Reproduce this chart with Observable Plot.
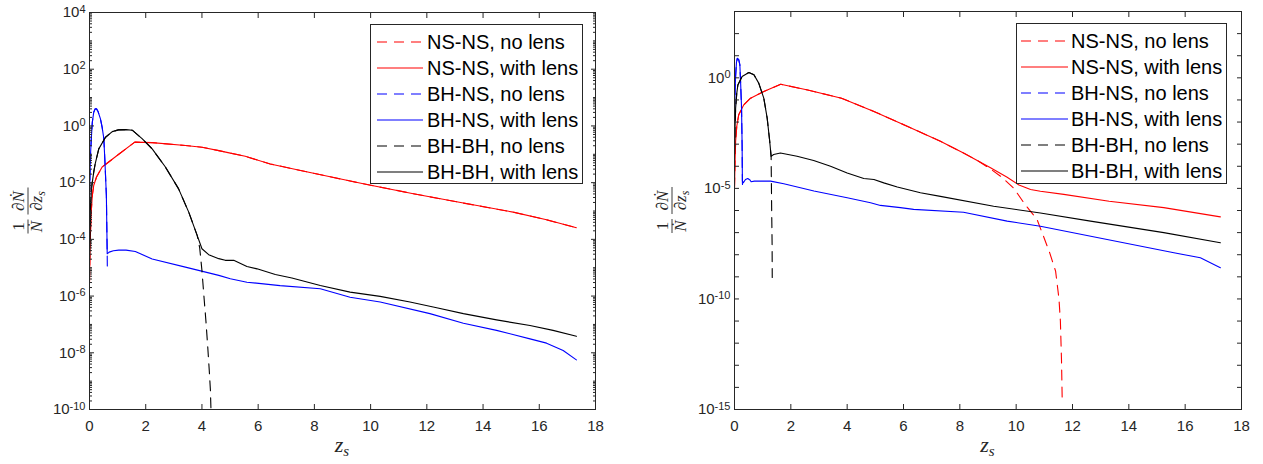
<!DOCTYPE html>
<html>
<head>
<meta charset="utf-8">
<script src="https://cdn.jsdelivr.net/npm/d3@7"></script>
<script src="https://cdn.jsdelivr.net/npm/@observablehq/plot@0.6"></script>
<style>
  body { margin: 0; background: #fff; }
  #wrap { position: relative; width: 1263px; height: 464px; font-family: "Liberation Sans", Arial, sans-serif; background: #fff; }
  .panel { position: absolute; top: 0; }
  .legend { position: absolute; box-sizing: border-box; background: #fff; border: 1px solid #262626; font-size: 20px; color: #000; }
  .legend .row { display: flex; align-items: center; height: 26px; white-space: nowrap; }
  .legend svg { display: block; }
</style>
</head>
<body>
<div id="wrap"></div>
<script>
// ---------- labels / categories ----------
const seriesNames  = ["NS-NS, no lens", "NS-NS, with lens", "BH-NS, no lens", "BH-NS, with lens", "BH-BH, no lens", "BH-BH, with lens"];
const seriesColors = ["#ff0000", "#ff0000", "#0000ff", "#0000ff", "#000000", "#000000"];
const seriesDashed = [true, false, true, false, true, false];
const xTicks = [0, 2, 4, 6, 8, 10, 12, 14, 16, 18];
const xLabel = "z";
const xLabelSub = "s";
const leftYLabelExp  = [-10, -8, -6, -4, -2, 0, 2, 4];
const rightYLabelExp = [-15, -10, -5, 0];

// ---------- data: [z_s, log10(1/N dN/dz_s)] ----------
// Left panel
const L_nsnsLens = [[0,-5.5],[0.02,-4.3],[0.04,-3.6],[0.07,-2.9],[0.1,-2.45],[0.15,-2.1],[0.25,-1.8],[0.45,-1.45],[1.04,-1.0],[1.61,-0.57],[2.23,-0.59],[3.41,-0.69],[4.0,-0.75],[4.6,-0.87],[5.01,-0.96],[5.54,-1.07],[6.43,-1.34],[7.97,-1.67],[9.74,-2.04],[11.52,-2.39],[13.3,-2.72],[15.07,-3.04],[16.26,-3.31],[17.32,-3.59]];
const L_nsnsNoLensSplit = 17.32;
const L_nsnsNoLensTail = [];
const L_bhnsLens = [[0,-2.5],[0.02,-1.6],[0.04,-0.93],[0.07,-0.35],[0.1,0.13],[0.15,0.48],[0.2,0.6],[0.25,0.6],[0.3,0.52],[0.39,0.25],[0.45,-0.05],[0.51,-0.45],[0.55,-1.28],[0.6,-2.45],[0.63,-4.51],[0.7,-4.45],[0.85,-4.4],[1.04,-4.38],[1.3,-4.38],[1.63,-4.43],[2.23,-4.69],[3.41,-4.98],[4.6,-5.27],[5.01,-5.39],[5.6,-5.51],[6.78,-5.63],[8.21,-5.74],[9.27,-6.04],[10.34,-6.21],[12.11,-6.62],[13.3,-6.96],[14.48,-7.21],[15.67,-7.51],[16.26,-7.66],[16.85,-7.92],[17.32,-8.25]];
const L_bhnsNoLensSplit = 0.63;
const L_bhnsNoLensTail = [[0.635,-5.1]];
const L_bhbhLens = [[0,-4.7],[0.03,-3.0],[0.07,-2.2],[0.15,-1.63],[0.2,-1.35],[0.33,-0.81],[0.57,-0.40],[0.81,-0.20],[1.03,-0.14],[1.3,-0.13],[1.52,-0.15],[1.87,-0.45],[2.23,-0.81],[2.7,-1.45],[3.17,-2.22],[3.53,-3.04],[3.83,-3.86],[4.0,-4.33],[4.24,-4.54],[4.6,-4.68],[4.83,-4.74],[5.13,-4.74],[5.6,-4.96],[5.96,-5.04],[6.61,-5.24],[7.2,-5.36],[8.21,-5.63],[9.27,-5.86],[10.34,-6.01],[11.4,-6.21],[12.35,-6.41],[13.3,-6.62],[14.48,-6.84],[15.67,-7.04],[16.49,-7.21],[17.32,-7.42]];
const L_bhbhNoLensSplit = 3.83;
const L_bhbhNoLensTail = [[3.92,-4.3],[4.0,-5.1],[4.07,-6.0],[4.14,-6.86],[4.2,-7.7],[4.26,-8.62],[4.3,-9.3],[4.33,-10.3]];

// Right panel
const R_nsnsLens = [[0,-4.97],[0.02,-3.8],[0.04,-2.87],[0.08,-2.2],[0.15,-1.67],[0.33,-1.22],[0.57,-0.92],[1.04,-0.62],[1.64,-0.29],[2.6,-0.55],[3.8,-0.92],[4.95,-1.52],[6.13,-2.19],[7.31,-2.87],[8.13,-3.40],[9.09,-4.07],[9.68,-4.5],[10.1,-4.85],[10.51,-5.05],[10.86,-5.13],[11.69,-5.27],[13.3,-5.58],[15.24,-5.87],[17.25,-6.29]];
const R_nsnsNoLensSplit = 8.13;
const R_nsnsNoLensTail = [[8.6,-3.72],[9.09,-4.12],[9.5,-4.5],[9.92,-5.0],[10.3,-5.7],[10.74,-6.4],[10.98,-7.2],[11.2,-7.95],[11.4,-8.74],[11.52,-10.0],[11.57,-11.0],[11.61,-12.8],[11.635,-14.6]];
const R_bhnsLens = [[0,-1.52],[0.02,-0.6],[0.04,0.1],[0.07,0.7],[0.1,0.88],[0.15,0.82],[0.19,0.59],[0.22,-0.3],[0.25,-1.37],[0.27,-3.0],[0.28,-4.67],[0.31,-4.75],[0.39,-4.6],[0.47,-4.55],[0.55,-4.62],[0.59,-4.7],[0.7,-4.67],[1.28,-4.67],[1.75,-4.79],[2.82,-5.12],[4.0,-5.42],[4.83,-5.65],[5.18,-5.77],[5.89,-5.87],[6.36,-5.95],[8.13,-6.08],[9.68,-6.48],[10.86,-6.71],[13.23,-7.31],[15.6,-7.91],[16.54,-8.14],[17.25,-8.59]];
const R_bhnsNoLensSplit = 0.28;
const R_bhnsNoLensTail = [[0.285,-5.0]];
const R_bhbhLens = [[0,-3.47],[0.02,-2.2],[0.04,-1.37],[0.08,-0.7],[0.12,-0.32],[0.27,0.06],[0.51,0.24],[0.69,0.14],[0.86,-0.24],[1.04,-0.92],[1.16,-1.82],[1.25,-2.87],[1.30,-3.55],[1.39,-3.47],[1.63,-3.40],[2.22,-3.55],[2.81,-3.74],[3.41,-4.0],[4.0,-4.3],[4.59,-4.55],[4.95,-4.6],[5.3,-4.75],[5.78,-4.94],[6.6,-5.2],[7.31,-5.36],[9.2,-5.81],[10.86,-6.11],[12.64,-6.48],[15.24,-7.0],[17.25,-7.46]];
const R_bhbhNoLensSplit = 1.30;
const R_bhbhNoLensTail = [[1.32,-6.0],[1.335,-7.5],[1.34,-9.03]];

// ---------- helpers ----------
const axisColor = "#262626";
const toPts = arr => arr.map(([z, lg]) => ({z, y: Math.pow(10, lg)}));
const noLens = (lens, split, tail) => lens.filter(p => p[0] <= split).concat(tail);

function seriesFor(nsL, nsS, nsT, bnL, bnS, bnT, bbL, bbS, bbT) {
  const d = [noLens(nsL, nsS, nsT), nsL, noLens(bnL, bnS, bnT), bnL, noLens(bbL, bbS, bbT), bbL];
  return d.map((a, i) => ({pts: toPts(a), color: seriesColors[i], dashed: seriesDashed[i]}));
}

function buildPanel({left, width, ml, mr, mt, mb, yExpMin, yExpMax, labelExp, majorExp, minor, series, titleX}) {
  const height = 464;
  const labelVals = labelExp.map(e => Math.pow(10, e));
  const majorVals = majorExp.map(e => Math.pow(10, e));
  const marks = [];
  for (const s of series) {
    marks.push(Plot.line(s.pts, {x: "z", y: "y", stroke: s.color, strokeWidth: 1.1,
      strokeDasharray: s.dashed ? "10,7" : null, clip: true}));
  }
  marks.push(Plot.frame({stroke: axisColor, strokeWidth: 1}));
  // tick labels
  marks.push(Plot.axisX({anchor: "bottom", ticks: xTicks, tickSize: 0, tickPadding: 11, label: null, fontSize: 15,
    fill: axisColor, tickFormat: d => String(d)}));
  marks.push(Plot.axisY({anchor: "left", ticks: labelVals, tickSize: 0, tickPadding: 4, label: null, fontSize: 15,
    fill: axisColor, tickFormat: d => "10^" + Math.round(Math.log10(d))}));
  // inward ticks on all four sides
  const blank = () => "";
  marks.push(Plot.axisX({anchor: "bottom", ticks: xTicks, tickSize: 5, dy: -5, tickFormat: blank, label: null, stroke: axisColor}));
  marks.push(Plot.axisX({anchor: "top", ticks: xTicks, tickSize: 5, dy: 5, tickFormat: blank, label: null, stroke: axisColor}));
  marks.push(Plot.axisY({anchor: "left", ticks: majorVals, tickSize: 5, dx: 5, tickFormat: blank, label: null, stroke: axisColor}));
  marks.push(Plot.axisY({anchor: "right", ticks: majorVals, tickSize: 5, dx: -5, tickFormat: blank, label: null, stroke: axisColor}));
  if (minor.length) {
    marks.push(Plot.axisY({anchor: "left", ticks: minor, tickSize: 3, dx: 3, tickFormat: blank, label: null, stroke: axisColor}));
    marks.push(Plot.axisY({anchor: "right", ticks: minor, tickSize: 3, dx: -3, tickFormat: blank, label: null, stroke: axisColor}));
  }
  const svg = Plot.plot({
    width, height,
    marginLeft: ml, marginRight: mr, marginTop: mt, marginBottom: mb,
    style: {fontFamily: '"Liberation Sans", Arial, sans-serif', fontSize: "15px", color: axisColor, background: "transparent", overflow: "visible"},
    x: {domain: [0, 18], label: null},
    y: {type: "log", domain: [Math.pow(10, yExpMin), Math.pow(10, yExpMax)], label: null},
    marks
  });
  svg.classList.add("panel");
  svg.style.left = left + "px";
  svg.style.position = "absolute";
  svg.style.top = "0px";

  // superscript exponents for y tick labels
  const NS = "http://www.w3.org/2000/svg";
  for (const t of svg.querySelectorAll("text")) {
    const m = /^10\^(.*)$/.exec(t.textContent);
    if (!m) continue;
    t.textContent = "10";
    t.setAttribute("font-size", "15px");
    const ts = document.createElementNS(NS, "tspan");
    ts.setAttribute("dy", "-0.42em");
    ts.setAttribute("font-size", "11px");
    ts.textContent = m[1];
    t.appendChild(ts);
  }

  // axis titles
  const s = d3.select(svg);
  const cx = (ml + (width - mr)) / 2;
  const xt = s.append("text").attr("x", cx).attr("y", 452).attr("text-anchor", "middle")
    .attr("font-family", '"Liberation Serif", "DejaVu Serif", serif').attr("font-style", "italic")
    .attr("font-size", 22).attr("fill", axisColor).text(xLabel);
  xt.append("tspan").attr("font-size", 15).attr("dy", 4).text(xLabelSub);

  const g = s.append("g").attr("transform", `translate(${titleX},${(mt + height - mb) / 2 + 1}) rotate(-90)`)
    .attr("font-family", '"Liberation Serif", "DejaVu Serif", serif').attr("font-size", 17).attr("fill", axisColor)
    .attr("text-anchor", "middle");
  g.append("text").attr("x", -15).attr("y", -4).text("1");
  g.append("line").attr("x1", -22).attr("x2", -8).attr("y1", 0).attr("y2", 0).attr("stroke", axisColor).attr("stroke-width", 0.9);
  g.append("text").attr("x", -15).attr("y", 14).attr("font-style", "italic").text("\u1E44");
  g.append("text").attr("x", 10.5).attr("y", -4).attr("font-style", "italic").text("\u2202\u1E44");
  g.append("line").attr("x1", -3).attr("x2", 24).attr("y1", 0).attr("y2", 0).attr("stroke", axisColor).attr("stroke-width", 0.9);
  const den = g.append("text").attr("x", 10.5).attr("y", 14).attr("font-style", "italic").text("\u2202z");
  den.append("tspan").attr("font-size", 12).attr("dy", 3).text("s");
  return svg;
}

function buildLegend({left, top, width, height, padLeft, lineLen, gap}) {
  const div = document.createElement("div");
  div.className = "legend";
  Object.assign(div.style, {left: left + "px", top: top + "px", width: width + "px", height: height + "px",
    paddingTop: "4px", paddingLeft: padLeft + "px"});
  seriesNames.forEach((name, i) => {
    const row = document.createElement("div");
    row.className = "row";
    const svgNS = "http://www.w3.org/2000/svg";
    const sv = document.createElementNS(svgNS, "svg");
    sv.setAttribute("width", lineLen); sv.setAttribute("height", 6);
    const ln = document.createElementNS(svgNS, "line");
    ln.setAttribute("x1", 0); ln.setAttribute("x2", lineLen); ln.setAttribute("y1", 3); ln.setAttribute("y2", 3);
    ln.setAttribute("stroke", seriesColors[i]); ln.setAttribute("stroke-width", 1.1);
    if (seriesDashed[i]) ln.setAttribute("stroke-dasharray", "10,7");
    sv.appendChild(ln);
    const sp = document.createElement("span");
    sp.style.marginLeft = gap + "px";
    sp.textContent = name;
    row.appendChild(sv); row.appendChild(sp);
    div.appendChild(row);
  });
  return div;
}

// minor ticks for the left panel's log axis
const leftMinor = [];
for (let k = -10; k < 4; k++) {
  for (let m = 2; m <= 9; m++) leftMinor.push(m * Math.pow(10, k));
  if (k % 2 !== 0) leftMinor.push(Math.pow(10, k));
}
const rightMajorExp = d3.range(-15, 4);

const wrap = document.getElementById("wrap");
wrap.appendChild(buildPanel({
  left: 0, width: 630, ml: 89, mr: 35, mt: 12, mb: 55,
  yExpMin: -10, yExpMax: 4, labelExp: leftYLabelExp, majorExp: leftYLabelExp, minor: leftMinor,
  series: seriesFor(L_nsnsLens, L_nsnsNoLensSplit, L_nsnsNoLensTail, L_bhnsLens, L_bhnsNoLensSplit, L_bhnsNoLensTail, L_bhbhLens, L_bhbhNoLensSplit, L_bhbhNoLensTail),
  titleX: 28
}));
wrap.appendChild(buildPanel({
  left: 630, width: 633, ml: 104, mr: 22, mt: 11, mb: 55,
  yExpMin: -15, yExpMax: 3, labelExp: rightYLabelExp, majorExp: rightMajorExp, minor: [],
  series: seriesFor(R_nsnsLens, R_nsnsNoLensSplit, R_nsnsNoLensTail, R_bhnsLens, R_bhnsNoLensSplit, R_bhnsNoLensTail, R_bhbhLens, R_bhbhNoLensSplit, R_bhbhNoLensTail),
  titleX: 42
}));
wrap.appendChild(buildLegend({left: 370, top: 24, width: 213, height: 160, padLeft: 6, lineLen: 46, gap: 4}));
wrap.appendChild(buildLegend({left: 1016, top: 23, width: 211, height: 161, padLeft: 4, lineLen: 47, gap: 3}));
</script>
</body>
</html>
